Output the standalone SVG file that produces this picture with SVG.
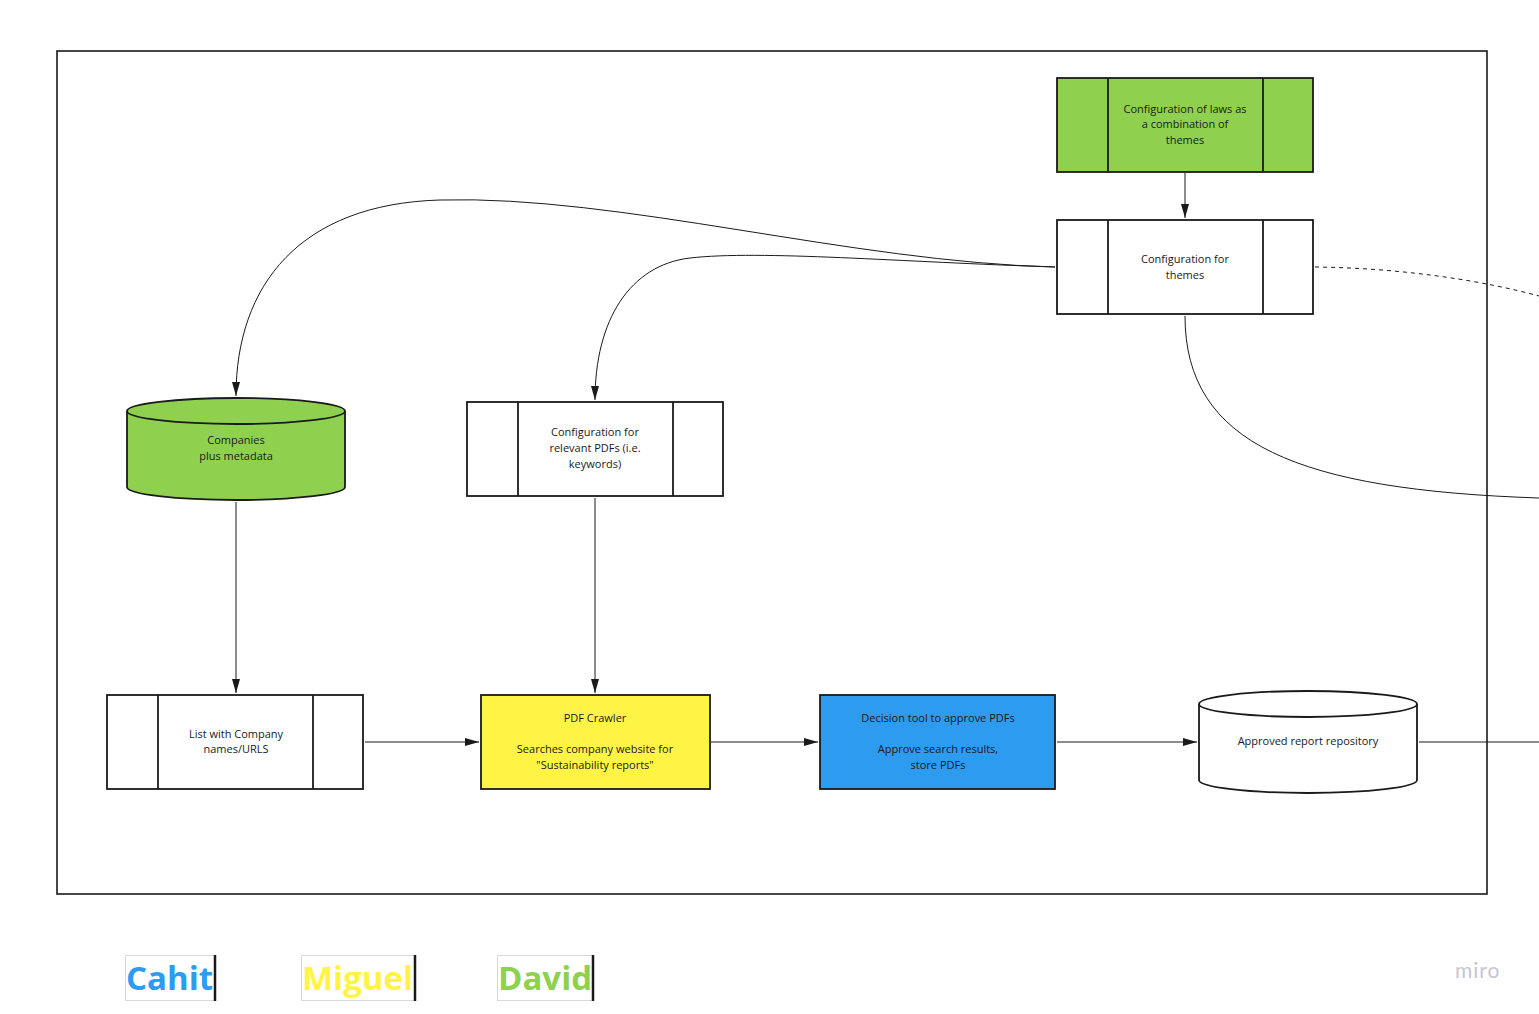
<svg xmlns="http://www.w3.org/2000/svg" width="1539" height="1014" viewBox="0 0 1539 1014">
<style>
.box{stroke:#1a1a1a;stroke-width:1.8;}
.div{stroke:#1a1a1a;stroke-width:1.8;}
.t{font-family:"Open Sans","Noto Sans",sans-serif;font-size:11px;fill:#1a1a1a;text-anchor:middle;}
.c{fill:none;stroke:#1a1a1a;stroke-width:1;}
.leg{font-family:"Open Sans","Noto Sans",sans-serif;font-size:33px;font-weight:bold;}
</style>
<defs>
<marker id="ah" viewBox="0 0 14 8" refX="14" refY="4" markerWidth="14" markerHeight="8" markerUnits="userSpaceOnUse" orient="auto">
<path d="M0,0 L14,4 L0,8 Z" fill="#1a1a1a"/>
</marker>
</defs>
<rect width="1539" height="1014" fill="#ffffff"/>
<rect x="57" y="51" width="1430" height="843" fill="none" stroke="#1a1a1a" stroke-width="1.6"/>

<g id="connectors">
<line class="c" x1="1185" y1="173" x2="1185" y2="218" marker-end="url(#ah)"/>
<path class="c" d="M1055,267 C850,262 620,195 440,200 C300,204 236,285 236,396" marker-end="url(#ah)"/>
<path class="c" d="M1055,267 C900,262 760,250 690,258 C630,265 595,320 595,400" marker-end="url(#ah)"/>
<path class="c" d="M1185,316 C1185,445 1300,490 1539,498"/>
<path class="c" d="M1315,267 C1400,268 1480,280 1539,296" stroke-dasharray="4,4"/>
<line class="c" x1="236" y1="502" x2="236" y2="693" marker-end="url(#ah)"/>
<line class="c" x1="595" y1="498" x2="595" y2="693" marker-end="url(#ah)"/>
<line class="c" x1="365" y1="742" x2="479" y2="742" marker-end="url(#ah)"/>
<line class="c" x1="711" y1="742" x2="818" y2="742" marker-end="url(#ah)"/>
<line class="c" x1="1057" y1="742" x2="1197" y2="742" marker-end="url(#ah)"/>
<line class="c" x1="1419" y1="742" x2="1539" y2="742"/>
</g>

<g id="laws">
<rect class="box" x="1057" y="78" width="256" height="94" fill="#8fd14f"/>
<line class="div" x1="1108" y1="78" x2="1108" y2="172"/>
<line class="div" x1="1263" y1="78" x2="1263" y2="172"/>
<text class="t" x="1185" y="113">Configuration of laws as</text>
<text class="t" x="1185" y="128">a combination of</text>
<text class="t" x="1185" y="144">themes</text>
</g>

<g id="themes">
<rect class="box" x="1057" y="220" width="256" height="94" fill="#ffffff"/>
<line class="div" x1="1108" y1="220" x2="1108" y2="314"/>
<line class="div" x1="1263" y1="220" x2="1263" y2="314"/>
<text class="t" x="1185" y="263">Configuration for</text>
<text class="t" x="1185" y="279">themes</text>
</g>

<g id="companies">
<path class="box" d="M127,411 L127,487 A109,13 0 0 0 345,487 L345,411" fill="#8fd14f"/>
<ellipse class="box" cx="236" cy="411" rx="109" ry="13" fill="#8fd14f"/>
<text class="t" x="236" y="444">Companies</text>
<text class="t" x="236" y="460">plus metadata</text>
</g>

<g id="pdfconfig">
<rect class="box" x="467" y="402" width="256" height="94" fill="#ffffff"/>
<line class="div" x1="518" y1="402" x2="518" y2="496"/>
<line class="div" x1="673" y1="402" x2="673" y2="496"/>
<text class="t" x="595" y="436">Configuration for</text>
<text class="t" x="595" y="452">relevant PDFs (i.e.</text>
<text class="t" x="595" y="468">keywords)</text>
</g>

<g id="list">
<rect class="box" x="107" y="695" width="256" height="94" fill="#ffffff"/>
<line class="div" x1="158" y1="695" x2="158" y2="789"/>
<line class="div" x1="313" y1="695" x2="313" y2="789"/>
<text class="t" x="236" y="738">List with Company</text>
<text class="t" x="236" y="753">names/URLS</text>
</g>

<g id="crawler">
<rect class="box" x="481" y="695" width="229" height="94" fill="#fff445"/>
<text class="t" x="595" y="722">PDF Crawler</text>
<text class="t" x="595" y="753">Searches company website for</text>
<text class="t" x="595" y="769">"Sustainability reports"</text>
</g>

<g id="decision">
<rect class="box" x="820" y="695" width="235" height="94" fill="#2d9bf0"/>
<text class="t" x="938" y="722">Decision tool to approve PDFs</text>
<text class="t" x="938" y="753">Approve search results,</text>
<text class="t" x="938" y="769">store PDFs</text>
</g>

<g id="repository">
<path class="box" d="M1199,704 L1199,780 A109,13 0 0 0 1417,780 L1417,704" fill="#ffffff"/>
<ellipse class="box" cx="1308" cy="704" rx="109" ry="13" fill="#ffffff"/>
<text class="t" x="1308" y="745">Approved report repository</text>
</g>

<g id="legend">
<rect x="125.5" y="955.5" width="89" height="45" fill="none" stroke="#d8d8d8" stroke-width="1"/>
<text class="leg" x="126" y="990" fill="#2d9bf0">Cahit</text>
<line x1="215" y1="955" x2="215" y2="1001" stroke="#1a1a1a" stroke-width="2.5"/>
<rect x="301.5" y="955.5" width="114" height="45" fill="none" stroke="#d8d8d8" stroke-width="1"/>
<text class="leg" x="302" y="990" fill="#fff445">Miguel</text>
<line x1="415" y1="955" x2="415" y2="1001" stroke="#1a1a1a" stroke-width="2.5"/>
<rect x="497.5" y="955.5" width="96" height="45" fill="none" stroke="#d8d8d8" stroke-width="1"/>
<text class="leg" x="498" y="990" fill="#8fd14f">David</text>
<line x1="593" y1="955" x2="593" y2="1001" stroke="#1a1a1a" stroke-width="2.5"/>
</g>

<text x="1455" y="978" font-family="Lato,'Open Sans',sans-serif" font-size="21" letter-spacing="1" fill="#c5c5d3">miro</text>
</svg>
